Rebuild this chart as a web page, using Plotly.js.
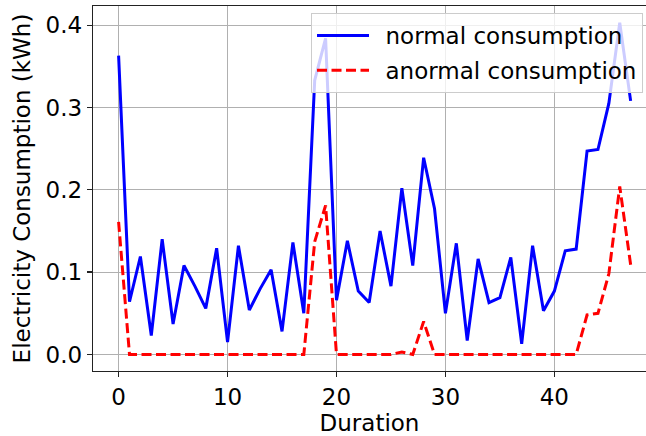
<!DOCTYPE html>
<html>
<head>
<meta charset="utf-8">
<script src="https://cdn.plot.ly/plotly-3.0.1.min.js"></script>
<style>
html,body{margin:0;padding:0;background:#fff;}
#chart{width:646px;height:436px;}
</style>
</head>
<body>
<div id="chart"></div>
<script>
const duration = [0,1,2,3,4,5,6,7,8,9,10,11,12,13,14,15,16,17,18,19,20,21,22,23,24,25,26,27,28,29,30,31,32,33,34,35,36,37,38,39,40,41,42,43,44,45,46,47];
const normalConsumption = [0.363,0.064,0.119,0.023,0.140,0.037,0.108,0.083,0.056,0.129,0.015,0.132,0.054,0.080,0.103,0.028,0.136,0.050,0.333,0.384,0.066,0.138,0.077,0.063,0.150,0.083,0.202,0.108,0.239,0.177,0.050,0.135,0.017,0.116,0.063,0.069,0.118,0.013,0.132,0.053,0.077,0.126,0.128,0.247,0.249,0.305,0.403,0.308];
const anormalConsumption = [0.161,0,0,0,0,0,0,0,0,0,0,0,0,0,0,0,0,0,0.137,0.181,0,0,0,0,0,0,0.003,0.0,0.040,0,0,0,0,0,0,0,0,0,0,0,0,0,0,0.048,0.050,0.098,0.204,0.109];
const xTicks = [0,10,20,30,40];
const yTicks = [0.0,0.1,0.2,0.3,0.4];
const seriesNames = ['normal consumption','anormal consumption'];

const font = {family:'"DejaVu Sans", Verdana, sans-serif', size:23, color:'#000'};

const traces = [
  {x:duration, y:normalConsumption, type:'scatter', mode:'lines', name:'\u2002' + seriesNames[0],
   legendgroup:'a', line:{color:'#0000ff', width:3}},
  {x:duration, y:anormalConsumption, type:'scatter', mode:'lines', name:'\u2002' + seriesNames[1],
   legendgroup:'b', line:{color:'#ff0000', width:3, dash:'10px,4.5px'}}
];

const layout = {
  width:646, height:436,
  margin:{l:93, r:0, t:6, b:65, pad:0},
  paper_bgcolor:'#fff', plot_bgcolor:'#fff',
  font:font,
  showlegend:true,
  legend:{x:0.9946, xanchor:'right', y:0.981, yanchor:'top',
    bgcolor:'rgba(255,255,255,0.8)', bordercolor:'#cccccc', borderwidth:1,
    font:{family:font.family, size:23, color:'#000'},
    traceorder:'grouped', tracegroupgap:2, itemwidth:52},
  xaxis:{range:[-2.35,48.41], tickvals:xTicks, ticktext:xTicks.map(String),
    showgrid:true, gridcolor:'#b0b0b0', gridwidth:1, zeroline:false,
    showline:true, linecolor:'#222', linewidth:1.3, mirror:true,
    ticks:'outside', ticklen:5, tickwidth:1.3, tickcolor:'#222',
    tickfont:font,
    title:{text:'Duration', font:font, standoff:2}},
  yaxis:{range:[-0.0201,0.4233], tickvals:yTicks, ticktext:yTicks.map(v=>v.toFixed(1)),
    showgrid:true, gridcolor:'#b0b0b0', gridwidth:1, zeroline:false,
    showline:true, linecolor:'#222', linewidth:1.3, mirror:false,
    ticks:'outside', ticklen:5, tickwidth:1.3, tickcolor:'#222',
    tickfont:font,
    title:{text:'Electricity Consumption (kWh)', font:font, standoff:8}}
};

Plotly.newPlot('chart', traces, layout, {displayModeBar:false, staticPlot:true});
</script>
</body>
</html>
